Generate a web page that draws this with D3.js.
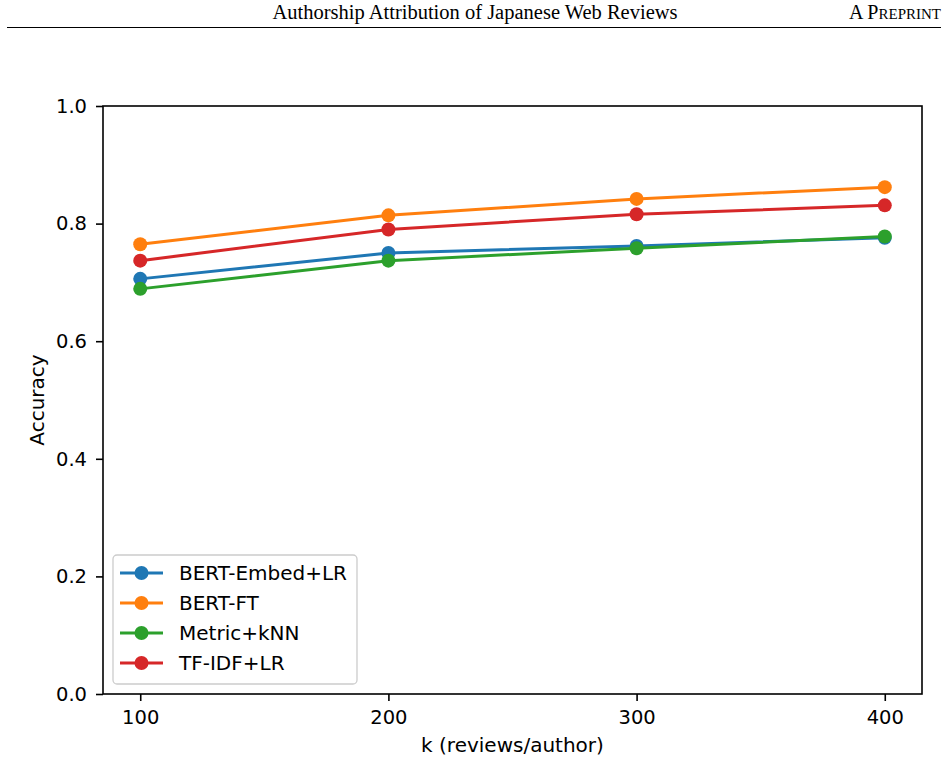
<!DOCTYPE html>
<html>
<head>
<meta charset="utf-8">
<script src="https://cdn.jsdelivr.net/npm/d3@7"></script>
<style>
  body { margin: 0; background: #fff; }
  svg { display: block; }
  .tick text { font-family: "DejaVu Sans", sans-serif; font-size: 19.5px; fill: #000; }
</style>
</head>
<body>
<div id="chart"></div>
<script>
const kValues = [100, 200, 300, 400];
const seriesNames = ["BERT-Embed+LR", "BERT-FT", "Metric+kNN", "TF-IDF+LR"];
const bertEmbed = [0.706, 0.750, 0.762, 0.776];
const bertFt = [0.765, 0.814, 0.842, 0.862];
const metricKnn = [0.689, 0.737, 0.758, 0.778];
const tfidf = [0.737, 0.790, 0.816, 0.831];
const colors = ["#1f77b4", "#ff7f0e", "#2ca02c", "#d62728"];
const yTicks = [0.0, 0.2, 0.4, 0.6, 0.8, 1.0];

const series = [bertEmbed, bertFt, metricKnn, tfidf].map((vals, i) => ({
    name: seriesNames[i],
    color: colors[i],
    values: vals.map((v, j) => ({ k: kValues[j], acc: v }))
}));

const svg = d3.select("#chart").append("svg").attr("width", 948).attr("height", 763);

// page header
svg.append("text")
    .attr("x", 475).attr("y", 19)
    .attr("text-anchor", "middle")
    .style("font-family", "'Liberation Serif', 'Times New Roman', serif")
    .style("font-size", "20.5px")
    .text("Authorship Attribution of Japanese Web Reviews");

const pp = svg.append("text")
    .attr("x", 941).attr("y", 19)
    .attr("text-anchor", "end")
    .style("font-family", "'Liberation Serif', 'Times New Roman', serif")
    .style("font-size", "20px");
pp.append("tspan").text("A P");
pp.append("tspan").style("font-size", "15px").text("REPRINT");

svg.append("line")
    .attr("x1", 7).attr("x2", 941).attr("y1", 27.5).attr("y2", 27.5)
    .attr("stroke", "#000").attr("stroke-width", 1);

const margin = { top: 106, right: 26, bottom: 69, left: 103 };
const width = 948 - margin.left - margin.right;
const height = 763 - margin.top - margin.bottom;
const g = svg.append("g").attr("transform", `translate(${margin.left},${margin.top})`);

const x = d3.scaleLinear().domain([85, 415]).range([0, width]);
const y = d3.scaleLinear().domain([0, 1]).range([height, 0]);

const xAxis = g.append("g")
    .attr("transform", `translate(0,${height})`)
    .call(d3.axisBottom(x).tickValues(kValues).tickSize(7).tickPadding(6).tickSizeOuter(0));
const yAxis = g.append("g")
    .call(d3.axisLeft(y).tickValues(yTicks).tickFormat(d3.format(".1f")).tickSize(7).tickPadding(9).tickSizeOuter(0));
[xAxis, yAxis].forEach(a => {
    a.select(".domain").remove();
    a.selectAll(".tick line").attr("stroke", "#000").attr("stroke-width", 1.6);
});
xAxis.selectAll(".tick text").attr("dy", "0.85em");

const line = d3.line().x(d => x(d.k)).y(d => y(d.acc));

series.forEach(s => {
    g.append("path")
        .datum(s.values)
        .attr("fill", "none")
        .attr("stroke", s.color)
        .attr("stroke-width", 3)
        .attr("d", line);
    g.selectAll(null)
        .data(s.values)
        .enter().append("circle")
        .attr("cx", d => x(d.k))
        .attr("cy", d => y(d.acc))
        .attr("r", 7)
        .attr("fill", s.color);
});

// frame
g.append("rect")
    .attr("width", width).attr("height", height)
    .attr("fill", "none").attr("stroke", "#000").attr("stroke-width", 1.6);

svg.append("text")
    .attr("x", margin.left + width / 2).attr("y", 752)
    .attr("text-anchor", "middle")
    .style("font-family", "'DejaVu Sans', sans-serif")
    .style("font-size", "20px")
    .text("k (reviews/author)");

svg.append("text")
    .attr("transform", `translate(44,${margin.top + height / 2}) rotate(-90)`)
    .attr("text-anchor", "middle")
    .style("font-family", "'DejaVu Sans', sans-serif")
    .style("font-size", "20px")
    .text("Accuracy");

// legend
const legend = g.append("g").attr("transform", "translate(10,449)");
legend.append("rect")
    .attr("width", 244).attr("height", 129)
    .attr("rx", 4)
    .attr("fill", "#fff").attr("fill-opacity", 0.8)
    .attr("stroke", "#ccc").attr("stroke-width", 1.3);
const items = legend.selectAll(".item")
    .data(series)
    .enter().append("g")
    .attr("transform", (d, i) => `translate(0,${18 + i * 30})`);
items.append("line")
    .attr("x1", 7).attr("x2", 50)
    .attr("stroke", d => d.color).attr("stroke-width", 3);
items.append("circle")
    .attr("cx", 28.5).attr("r", 7)
    .attr("fill", d => d.color);
items.append("text")
    .attr("x", 66).attr("dy", "0.35em")
    .style("font-family", "'DejaVu Sans', sans-serif")
    .style("font-size", "20px")
    .text(d => d.name);
</script>
</body>
</html>
